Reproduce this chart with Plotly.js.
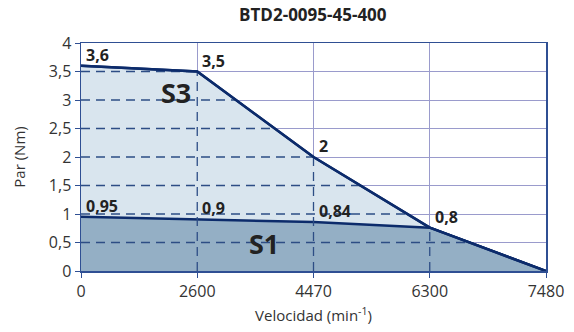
<!DOCTYPE html>
<html><head><meta charset="utf-8">
<script src="https://cdn.plot.ly/plotly-3.0.1.min.js"></script>
<style>html,body{margin:0;padding:0;background:#fff}#chart{width:574px;height:332px}</style>
</head><body><div id="chart"></div>
<script>
// Data
var speedLabels = ['0', '2600', '4470', '6300', '7480'];
var s3Values = [3.6, 3.5, 2, 0.76, 0];
var s1Values = [0.95, 0.91, 0.86, 0.76, 0];
var s3Labels = ['3,6', '3,5', '2', '0,8', ''];
var s1Labels = ['0,95', '0,9', '0,84', '', ''];
var yTicks = [0, 0.5, 1, 1.5, 2, 2.5, 3, 3.5, 4];

var xIdx = speedLabels.map(function (_, i) { return i; });
var navy = '#0c2b6b', dashCol = '#2d4d85', axisCol = '#2f4f93', gridCol = '#9a9bcc';

// dashed grid inside the filled S3 area, derived from data
function crossX(level) {
  for (var i = 0; i < s3Values.length - 1; i++) {
    var a = s3Values[i], b = s3Values[i + 1];
    if (a >= level && b <= level) return xIdx[i] + (a - level) / (a - b) * (xIdx[i + 1] - xIdx[i]);
  }
  return 0;
}
var dx = [], dy = [];
yTicks.forEach(function (L) {
  if (L > 0 && L < 4) { dx.push(0, crossX(L), null); dy.push(L, L, null); }
});
xIdx.forEach(function (x, i) {
  if (i > 0 && i < xIdx.length - 1) { dx.push(x, x, null); dy.push(0, s3Values[i], null); }
});

var traces = [
  { x: xIdx, y: s3Values, type: 'scatter', mode: 'lines', fill: 'tozeroy',
    fillcolor: '#d9e5ee', line: { color: navy, width: 2.5 }, hoverinfo: 'skip' },
  { x: xIdx, y: s1Values, type: 'scatter', mode: 'lines', fill: 'tozeroy',
    fillcolor: '#94afc5', line: { color: navy, width: 2.5 }, hoverinfo: 'skip' },
  { x: dx, y: dy, type: 'scatter', mode: 'lines',
    line: { color: dashCol, width: 1.3, dash: '9px,6px' }, hoverinfo: 'skip' },
  { x: xIdx, y: s3Values, type: 'scatter', mode: 'lines', line: { color: navy, width: 2.5 }, hoverinfo: 'skip' }
];

var ann = [];
function lab(x, y, t) {
  if (!t) return;
  ann.push({ x: x, y: y, text: '<b>' + t + '</b>', showarrow: false, xanchor: 'left', yanchor: 'bottom',
    xshift: 3, yshift: -2, font: { family: 'Open Sans', size: 16, color: '#222' } });
}
xIdx.forEach(function (x, i) { lab(x, s3Values[i], s3Labels[i]); lab(x, s1Values[i], s1Labels[i]); });
ann.push({ x: 0.82, y: 3.14, text: '<b>S3</b>', showarrow: false, font: { family: 'Open Sans', size: 27, color: '#222' } });
ann.push({ x: 1.57, y: 0.49, text: '<b>S1</b>', showarrow: false, font: { family: 'Open Sans', size: 27, color: '#222' } });

var layout = {
  width: 574, height: 332,
  margin: { l: 81, r: 28, t: 43, b: 61 },
  paper_bgcolor: '#fff', plot_bgcolor: '#fff',
  separators: ',.',
  showlegend: false,
  font: { family: 'Open Sans', size: 15, color: '#333' },
  title: { text: '<b>BTD2-0095-45-400</b>', x: 0.545, xanchor: 'center', y: 0.955, yanchor: 'middle',
    font: { family: 'Open Sans', size: 17, color: '#222' } },
  xaxis: {
    range: [0, 4], tickvals: xIdx, ticktext: speedLabels, showgrid: true, gridcolor: gridCol, gridwidth: 1,
    zeroline: false, showline: true, linecolor: axisCol, linewidth: 1.5, mirror: true,
    ticks: 'outside', ticklen: 5, tickcolor: axisCol, tickfont: { size: 16, color: '#333' },
    title: { text: 'Velocidad (min<sup>-1</sup>)', standoff: 10, font: { size: 15, color: '#333' } }
  },
  yaxis: {
    range: [0, 4], tickvals: yTicks, showgrid: true, gridcolor: gridCol, gridwidth: 1,
    zeroline: false, showline: true, linecolor: axisCol, linewidth: 1.5, mirror: true,
    ticks: 'outside', ticklen: 5, tickcolor: axisCol, tickfont: { size: 16, color: '#333' },
    title: { text: 'Par (Nm)', standoff: 19, font: { size: 15, color: '#333' } }
  },
  annotations: ann
};
Plotly.newPlot('chart', traces, layout, { staticPlot: true });
</script></body></html>
